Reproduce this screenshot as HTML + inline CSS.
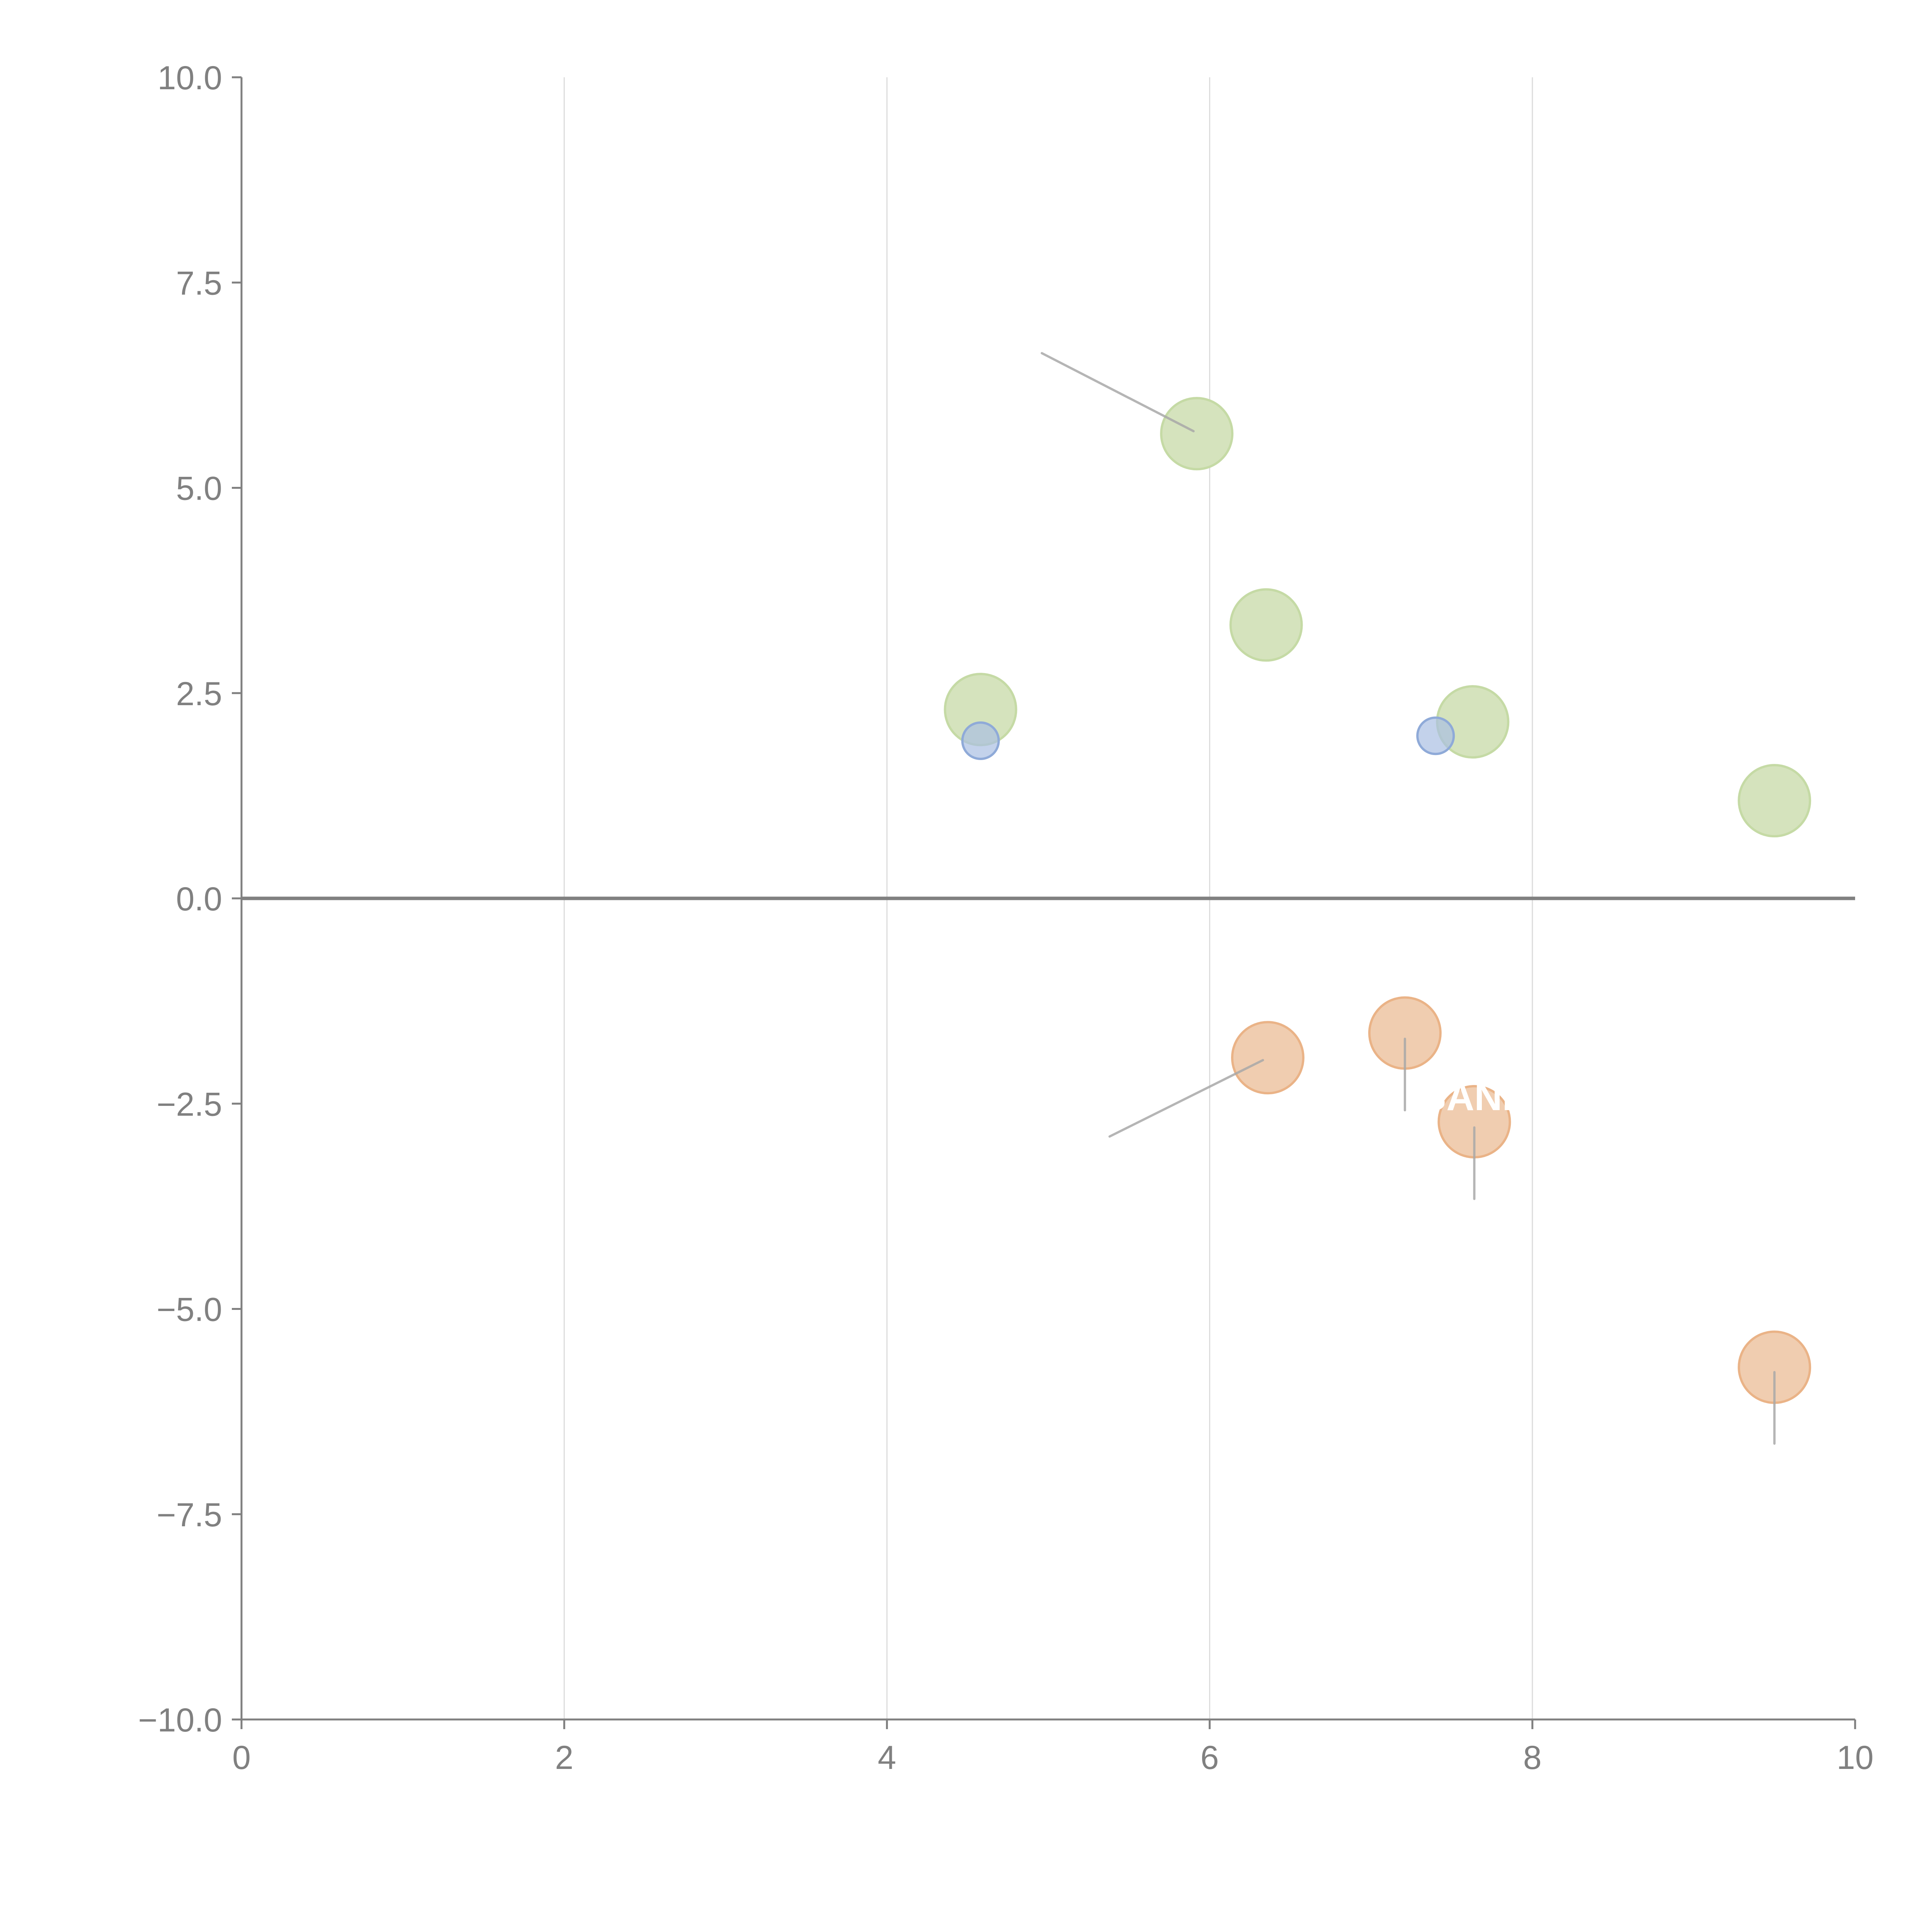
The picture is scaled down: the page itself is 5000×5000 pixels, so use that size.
<!DOCTYPE html>
<html><head><meta charset="utf-8"><style>html,body{margin:0;padding:0;background:#fff}svg{display:block}</style></head>
<body>
<svg id="chart" width="5000" height="5000" viewBox="0 0 5000 5000" xmlns="http://www.w3.org/2000/svg" font-family="Liberation Sans, Arial, sans-serif">
<rect width="5000" height="5000" fill="#fff"/>
<g id="grid"></g><g id="axes"></g><g id="marks"></g><g id="lines"></g><g id="labels"></g>
</svg>
<script>
const xTicks=[0,2,4,6,8,10];
const yTicks=[-10,-7.5,-5,-2.5,0,2.5,5,7.5,10];
const yTickLabels=["\u221210.0","\u22127.5","\u22125.0","\u22122.5","0.0","2.5","5.0","7.5","10.0"];
const greenX=[5.92,6.35,4.58,7.63,9.50];
const greenY=[5.66,3.33,2.30,2.15,1.19];
const blueX=[4.58,7.40];
const blueY=[1.92,1.98];
const orangeX=[6.36,7.21,7.64,9.50];
const orangeY=[-1.94,-1.64,-2.72,-5.71];
const connX1=[4.96,5.38,7.21,7.64,9.50];
const connY1=[6.64,-2.90,-1.71,-2.79,-5.77];
const connX2=[5.90,6.33,7.21,7.64,9.50];
const connY2=[5.69,-1.97,-2.58,-3.66,-6.64];
const L=625,R=4801,T=200,B=4450;
const sx=v=>L+(v-0)/(10-0)*(R-L);
const sy=v=>B-(v+10)/20*(B-T);
const NS="http://www.w3.org/2000/svg";
function mk(tag,parent,attrs){const e=document.createElementNS(NS,tag);for(const k in attrs)e.setAttribute(k,attrs[k]);document.getElementById(parent).appendChild(e);return e;}
xTicks.forEach((t,i)=>{
 if(t>0&&t<10){const g=mk('line','grid',{x1:sx(t),x2:sx(t),y1:T,y2:B,stroke:'#dcdcdc','stroke-width':3});
 
 }
 const tk=mk('line','axes',{x1:sx(t),x2:sx(t),y1:B,y2:B+25,stroke:'#808080','stroke-width':5});
 
 
 const lb=mk('text','axes',{x:sx(t),y:B+128,'text-anchor':'middle','font-size':86,fill:'#808080'});
 lb.textContent=String(t);
 
 
});
yTicks.forEach((t,i)=>{
 const tk=mk('line','axes',{x1:L-25,x2:L,y1:sy(t),y2:sy(t),stroke:'#808080','stroke-width':5});
 
 
 const lb=mk('text','axes',{x:L-50,y:sy(t)+31,'text-anchor':'end','font-size':86,fill:'#808080'});
 lb.textContent=yTickLabels[i];
 
 
});
const ya=mk('line','axes',{x1:L,x2:L,y1:T,y2:B,stroke:'#808080','stroke-width':5});


const xa=mk('line','axes',{x1:L,x2:R,y1:B,y2:B,stroke:'#808080','stroke-width':5});


const zl=mk('line','axes',{x1:L,x2:R,y1:sy(0),y2:sy(0),stroke:'#808080','stroke-width':9});


greenX.forEach((v,i)=>{
 const c=mk('circle','marks',{cx:sx(v),cy:sy(greenY[i]),r:92,fill:'#d5e3bd',stroke:'#c5daa5','stroke-width':6});
 
 
});
orangeX.forEach((v,i)=>{
 const c=mk('circle','marks',{cx:sx(v),cy:sy(orangeY[i]),r:92,fill:'#f0cdb0',stroke:'#eab387','stroke-width':6});
 
 
});
blueX.forEach((v,i)=>{
 const c=mk('circle','marks',{cx:sx(v),cy:sy(blueY[i]),r:47,fill:'#a9bfe3','fill-opacity':0.7,stroke:'#8faad8','stroke-width':6});
 
 
});
connX1.forEach((v,i)=>{
 const c=mk('line','lines',{x1:sx(v),y1:sy(connY1[i]),x2:sx(connX2[i]),y2:sy(connY2[i]),stroke:'#a8a8a8','stroke-opacity':0.85,'stroke-width':6,'stroke-linecap':'round'});
 
 
});
const wl=mk('text','labels',{x:sx(7.64),y:sy(-2.72)-30,'text-anchor':'middle','font-size':100,'font-weight':'bold',fill:'#fff'});
wl.textContent='BANK';


</script>
</body></html>
